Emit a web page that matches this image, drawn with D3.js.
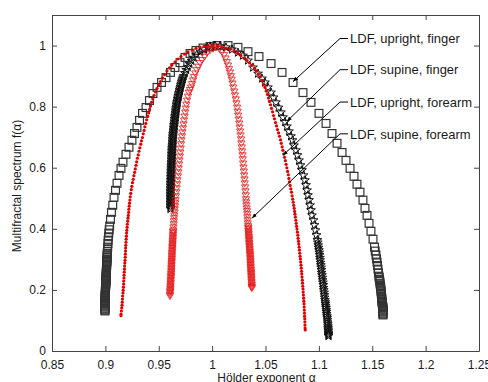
<!DOCTYPE html>
<html>
<head>
<meta charset="utf-8">
<script src="https://cdn.jsdelivr.net/npm/d3@7"></script>
<style>
  body { margin: 0; background: #fff; }
  svg { display: block; }
  text { font-family: "Liberation Sans", Arial, sans-serif; }
</style>
</head>
<body>
<svg id="chart" width="488" height="382"></svg>
<script>
// axis ticks
const alphaTicks = [0.85, 0.9, 0.95, 1, 1.05, 1.1, 1.15, 1.2, 1.25];
const alphaTickLabels = ["0.85", "0.9", "0.95", "1", "1.05", "1.1", "1.15", "1.2", "1.25"];
const fTicks = [0, 0.2, 0.4, 0.6, 0.8, 1];
const fTickLabels = ["0", "0.2", "0.4", "0.6", "0.8", "1"];

// [alpha, f(alpha)], left branch bottom->top, right branch top->bottom,
// then the extra points that fill the dense tails
const uprightFinger = [
  [0.8996,0.131],[0.8996,0.137],[0.8996,0.144],[0.8996,0.150],[0.8997,0.160],[0.8998,0.170],[0.8999,0.180],[0.9000,0.190],
  [0.9001,0.199],[0.9002,0.212],[0.9004,0.226],[0.9006,0.239],[0.9008,0.252],[0.9010,0.268],[0.9012,0.284],[0.9015,0.301],
  [0.9018,0.320],[0.9022,0.340],[0.9026,0.363],[0.9032,0.386],[0.9040,0.409],[0.9048,0.431],[0.9057,0.454],[0.9069,0.477],
  [0.9081,0.503],[0.9095,0.526],[0.9109,0.549],[0.9128,0.575],[0.9146,0.598],[0.9165,0.618],[0.9193,0.644],[0.9221,0.667],
  [0.9249,0.690],[0.9273,0.712],[0.9296,0.732],[0.9320,0.755],[0.9348,0.778],[0.9381,0.797],[0.9413,0.820],[0.9446,0.843],
  [0.9484,0.863],[0.9526,0.879],[0.9568,0.895],[0.9610,0.912],[0.9652,0.928],[0.9699,0.944],[0.9746,0.961],[0.9793,0.974],
  [0.9849,0.984],[0.9915,0.992],[0.9980,0.997],[1.0046,1.000],
  [1.0149,1.000],[1.0242,0.994],[1.0336,0.980],[1.0439,0.964],[1.0552,0.941],[1.0655,0.912],[1.0758,0.879],[1.0851,0.846],
  [1.0926,0.814],[1.1001,0.778],[1.1067,0.745],[1.1123,0.712],[1.1170,0.680],[1.1217,0.650],[1.1254,0.624],[1.1292,0.598],
  [1.1329,0.572],[1.1357,0.546],[1.1385,0.520],[1.1413,0.494],[1.1432,0.467],[1.1451,0.444],[1.1470,0.418],[1.1488,0.392],
  [1.1507,0.366],[1.1521,0.340],[1.1535,0.314],[1.1545,0.291],[1.1554,0.268],[1.1563,0.245],[1.1573,0.222],[1.1582,0.199],
  [1.1587,0.180],[1.1591,0.163],[1.1596,0.150],[1.1601,0.137],[1.1601,0.128],[1.1601,0.118],
  [0.8996,0.134],[0.8996,0.140],[0.8996,0.147],[0.8996,0.153],[0.8997,0.156],[0.8997,0.163],[0.8997,0.166],[0.8998,0.173],
  [0.8998,0.176],[0.8999,0.183],[0.8999,0.186],[0.9000,0.193],[0.9000,0.196],[0.9001,0.203],[0.9001,0.206],[0.9002,0.209],
  [0.9003,0.216],[0.9003,0.219],[0.9004,0.222],[0.9005,0.229],[0.9005,0.232],[0.9006,0.235],[0.9007,0.242],[0.9007,0.245],
  [0.9008,0.248],[0.9009,0.256],[0.9009,0.260],[0.9010,0.264],[0.9011,0.272],[0.9011,0.276],[0.9012,0.280],[0.9013,0.289],
  [0.9014,0.293],[0.9014,0.297],[0.9016,0.306],[0.9017,0.311],[0.9017,0.315],[0.9019,0.326],[0.9020,0.333],[0.9024,0.352],
  [0.9029,0.374],[0.9036,0.397],
  [1.1601,0.121],[1.1601,0.124],[1.1601,0.131],[1.1601,0.134],[1.1600,0.140],[1.1599,0.143],[1.1598,0.146],[1.1595,0.154],
  [1.1594,0.157],[1.1593,0.160],[1.1590,0.167],[1.1589,0.171],[1.1588,0.175],[1.1586,0.184],[1.1585,0.189],[1.1583,0.194],
  [1.1580,0.205],[1.1578,0.211],[1.1575,0.216],[1.1571,0.228],[1.1568,0.234],[1.1565,0.240],[1.1558,0.256],[1.1549,0.280],
  [1.1540,0.302],[1.1528,0.327]
];

const supineFinger = [
  [0.9610,0.465],[0.9610,0.470],[0.9610,0.475],[0.9610,0.480],[0.9610,0.485],[0.9610,0.490],[0.9610,0.495],[0.9610,0.500],
  [0.9610,0.505],[0.9610,0.510],[0.9610,0.515],[0.9610,0.520],[0.9610,0.525],[0.9611,0.530],[0.9611,0.535],[0.9612,0.540],
  [0.9612,0.545],[0.9612,0.550],[0.9613,0.555],[0.9613,0.560],[0.9614,0.565],[0.9614,0.570],[0.9615,0.575],[0.9615,0.580],
  [0.9616,0.585],[0.9616,0.590],[0.9617,0.595],[0.9617,0.600],[0.9617,0.605],[0.9618,0.610],[0.9618,0.615],[0.9619,0.620],
  [0.9620,0.625],[0.9620,0.630],[0.9621,0.635],[0.9622,0.640],[0.9622,0.645],[0.9623,0.650],[0.9624,0.655],[0.9624,0.660],
  [0.9625,0.665],[0.9626,0.670],[0.9627,0.675],[0.9628,0.680],[0.9629,0.685],[0.9630,0.690],[0.9631,0.695],[0.9632,0.700],
  [0.9633,0.705],[0.9634,0.710],[0.9636,0.715],[0.9637,0.720],[0.9639,0.725],[0.9640,0.730],[0.9642,0.735],[0.9643,0.740],
  [0.9645,0.745],[0.9647,0.750],[0.9648,0.755],[0.9650,0.760],[0.9652,0.765],[0.9653,0.770],[0.9655,0.775],[0.9657,0.780],
  [0.9659,0.785],[0.9661,0.790],[0.9663,0.795],[0.9665,0.800],[0.9667,0.805],[0.9669,0.810],[0.9672,0.815],[0.9675,0.820],
  [0.9677,0.825],[0.9680,0.830],[0.9683,0.835],[0.9686,0.840],[0.9690,0.845],[0.9693,0.850],[0.9696,0.855],[0.9700,0.860],
  [0.9703,0.865],[0.9707,0.870],[0.9710,0.875],[0.9714,0.880],[0.9718,0.885],[0.9722,0.890],[0.9727,0.895],[0.9732,0.900],
  [0.9744,0.91],[0.9757,0.92],[0.9772,0.93],[0.9788,0.94],[0.9806,0.95],[0.9828,0.96],[0.9855,0.97],[0.9890,0.98],
  [0.9924,0.987],[0.9955,0.993],[0.9980,0.997],[1.0027,1.000],
  [1.0074,0.998],[1.0130,0.994],[1.0186,0.987],[1.0242,0.977],[1.0289,0.967],[1.0336,0.951],[1.0383,0.928],[1.0430,0.908],
  [1.0467,0.892],[1.0495,0.879],[1.0523,0.863],[1.0552,0.846],[1.0575,0.830],[1.0598,0.814],[1.0622,0.797],[1.0645,0.781],
  [1.0664,0.765],[1.0683,0.750],[1.0701,0.735],[1.0720,0.719],[1.0739,0.703],[1.0753,0.690],[1.0767,0.673],[1.0786,0.657],
  [1.0800,0.641],[1.0814,0.624],[1.0828,0.608],[1.0842,0.592],[1.0856,0.575],[1.0870,0.559],[1.0879,0.543],[1.0889,0.526],
  [1.0898,0.510],[1.0908,0.494],[1.0917,0.477],[1.0926,0.461],[1.0936,0.444],[1.0950,0.428],[1.0959,0.412],[1.0968,0.395],
  [1.0978,0.379],[1.0987,0.363],[1.0994,0.346],[1.1001,0.330],[1.1007,0.314],[1.1012,0.297],[1.1018,0.281],[1.1024,0.265],
  [1.1029,0.248],[1.1035,0.232],[1.1041,0.216],[1.1046,0.199],[1.1052,0.183],[1.1057,0.167],[1.1062,0.154],[1.1067,0.141],
  [1.1071,0.128],[1.1076,0.114],[1.1080,0.101],[1.1084,0.088],[1.1086,0.075],[1.1088,0.065],[1.1090,0.056],[1.1090,0.049],
  [1.0990,0.355],[1.0997,0.338],[1.1004,0.322],[1.1010,0.305],[1.1015,0.289],[1.1021,0.273],[1.1026,0.256],[1.1032,0.240],
  [1.1038,0.224],[1.1043,0.207],[1.1049,0.191],[1.1054,0.175],[1.1060,0.160],[1.1064,0.147],[1.1069,0.134],[1.1073,0.121],
  [1.1078,0.108],[1.1082,0.094],[1.1085,0.081],[1.1087,0.070],[1.1089,0.060],[1.1090,0.052]
];

const uprightForearm = [
  [0.9146,0.116],[0.9147,0.121],[0.9150,0.131],[0.9153,0.141],[0.9156,0.150],[0.9158,0.160],[0.9160,0.170],[0.9162,0.180],
  [0.9165,0.190],[0.9167,0.199],[0.9169,0.209],[0.9171,0.219],[0.9172,0.229],[0.9174,0.239],[0.9175,0.248],[0.9177,0.258],
  [0.9179,0.268],[0.9180,0.278],[0.9182,0.288],[0.9184,0.297],[0.9186,0.307],[0.9187,0.317],[0.9189,0.327],[0.9189,0.337],
  [0.9191,0.346],[0.9193,0.356],[0.9195,0.366],[0.9197,0.376],[0.9199,0.386],[0.9201,0.395],[0.9204,0.405],[0.9206,0.415],
  [0.9209,0.425],[0.9212,0.435],[0.9215,0.444],[0.9218,0.454],[0.9220,0.464],[0.9223,0.474],[0.9226,0.484],[0.9230,0.494],
  [0.9233,0.505],[0.9238,0.516],[0.9243,0.528],[0.9248,0.539],[0.9254,0.551],[0.9261,0.562],[0.9267,0.574],[0.9274,0.585],
  [0.9280,0.596],[0.9287,0.608],[0.9293,0.619],[0.9300,0.631],[0.9308,0.642],[0.9315,0.654],[0.9323,0.665],[0.9331,0.677],
  [0.9338,0.688],[0.9347,0.699],[0.9355,0.711],[0.9363,0.722],[0.9370,0.734],[0.9379,0.745],[0.9387,0.757],[0.9396,0.768],
  [0.9405,0.779],[0.9414,0.791],[0.9423,0.802],[0.9432,0.814],[0.9444,0.825],[0.9456,0.837],[0.9470,0.848],[0.9484,0.860],
  [0.9498,0.871],[0.9516,0.882],[0.9535,0.894],[0.9554,0.905],[0.9577,0.917],[0.9601,0.927],[0.9624,0.936],[0.9652,0.946],
  [0.9680,0.956],[0.9708,0.964],[0.9741,0.972],[0.9774,0.979],[0.9812,0.986],[0.9849,0.991],[0.9886,0.995],[0.9924,0.997],
  [0.9961,0.999],[1.0000,1.000],
  [1.0055,0.998],[1.0093,0.996],[1.0130,0.992],[1.0167,0.988],[1.0205,0.982],[1.0238,0.975],[1.0270,0.967],[1.0299,0.959],
  [1.0327,0.951],[1.0350,0.943],[1.0373,0.935],[1.0397,0.926],[1.0416,0.917],[1.0434,0.907],[1.0451,0.897],[1.0467,0.886],
  [1.0481,0.874],[1.0495,0.863],[1.0507,0.851],[1.0519,0.840],[1.0528,0.828],[1.0537,0.817],[1.0547,0.806],[1.0556,0.794],
  [1.0566,0.783],[1.0575,0.771],[1.0584,0.760],[1.0594,0.748],[1.0603,0.737],[1.0612,0.725],[1.0622,0.714],[1.0631,0.703],
  [1.0641,0.691],[1.0648,0.680],[1.0656,0.668],[1.0663,0.657],[1.0671,0.645],[1.0678,0.634],[1.0686,0.623],[1.0693,0.611],
  [1.0700,0.600],[1.0707,0.588],[1.0714,0.577],[1.0719,0.565],[1.0725,0.554],[1.0731,0.542],[1.0737,0.531],[1.0744,0.520],
  [1.0749,0.508],[1.0755,0.497],[1.0760,0.487],[1.0764,0.477],[1.0769,0.467],[1.0773,0.457],[1.0776,0.448],[1.0780,0.438],
  [1.0784,0.428],[1.0788,0.418],[1.0791,0.408],[1.0795,0.399],[1.0799,0.389],[1.0803,0.379],[1.0805,0.369],[1.0809,0.359],
  [1.0812,0.350],[1.0815,0.340],[1.0818,0.330],[1.0821,0.320],[1.0824,0.310],[1.0827,0.301],[1.0830,0.291],[1.0833,0.281],
  [1.0835,0.271],[1.0838,0.261],[1.0840,0.252],[1.0842,0.242],[1.0845,0.232],[1.0847,0.222],[1.0849,0.212],[1.0851,0.203],
  [1.0853,0.193],[1.0855,0.183],[1.0857,0.173],[1.0859,0.163],[1.0861,0.154],[1.0862,0.144],[1.0864,0.134],[1.0865,0.124],
  [1.0866,0.114],[1.0868,0.105],[1.0869,0.095],[1.0870,0.085],[1.0871,0.075],[1.0872,0.069]
];

const supineForearm = [
  [0.9605,0.180],[0.9606,0.190],[0.9608,0.199],[0.9609,0.209],[0.9611,0.219],[0.9612,0.229],[0.9614,0.239],[0.9615,0.248],
  [0.9617,0.258],[0.9618,0.268],[0.9619,0.278],[0.9620,0.288],[0.9622,0.297],[0.9623,0.307],[0.9624,0.317],[0.9626,0.327],
  [0.9627,0.337],[0.9629,0.346],[0.9630,0.356],[0.9632,0.366],[0.9633,0.376],[0.9634,0.386],[0.9636,0.395],[0.9638,0.405],
  [0.9640,0.415],[0.9642,0.425],[0.9644,0.435],[0.9646,0.444],[0.9648,0.454],[0.9650,0.464],[0.9653,0.474],[0.9655,0.484],
  [0.9657,0.494],[0.9661,0.507],[0.9664,0.520],[0.9668,0.533],[0.9672,0.546],[0.9676,0.559],[0.9679,0.572],[0.9683,0.585],
  [0.9687,0.598],[0.9691,0.611],[0.9694,0.624],[0.9698,0.637],[0.9702,0.650],[0.9706,0.663],[0.9709,0.677],[0.9713,0.690],
  [0.9718,0.703],[0.9722,0.716],[0.9727,0.729],[0.9732,0.742],[0.9737,0.755],[0.9742,0.768],[0.9748,0.781],[0.9753,0.794],
  [0.9759,0.807],[0.9765,0.820],[0.9774,0.833],[0.9782,0.846],[0.9792,0.855],[0.9802,0.863],[0.9812,0.874],[0.9821,0.886],
  [0.9830,0.897],[0.9842,0.909],[0.9856,0.920],[0.9871,0.931],[0.9886,0.943],[0.9905,0.953],[0.9929,0.964],[0.9952,0.976],
  [0.9980,0.985],[1.0008,0.990],[1.0036,0.994],
  [1.0069,0.989],[1.0093,0.980],[1.0111,0.969],[1.0125,0.958],[1.0137,0.946],[1.0149,0.935],[1.0158,0.923],[1.0167,0.912],
  [1.0176,0.900],[1.0183,0.889],[1.0191,0.876],[1.0198,0.863],[1.0207,0.850],[1.0214,0.837],[1.0222,0.824],[1.0228,0.811],
  [1.0234,0.797],[1.0239,0.784],[1.0244,0.771],[1.0249,0.758],[1.0254,0.745],[1.0257,0.732],[1.0262,0.719],[1.0266,0.706],
  [1.0271,0.693],[1.0274,0.680],[1.0278,0.667],[1.0281,0.654],[1.0285,0.641],[1.0287,0.628],[1.0290,0.614],[1.0294,0.601],
  [1.0297,0.588],[1.0300,0.575],[1.0303,0.562],[1.0306,0.549],[1.0309,0.536],[1.0312,0.523],[1.0315,0.510],[1.0317,0.497],
  [1.0319,0.487],[1.0321,0.477],[1.0324,0.467],[1.0326,0.458],[1.0329,0.448],[1.0330,0.438],[1.0332,0.428],[1.0334,0.418],
  [1.0337,0.409],[1.0339,0.399],[1.0341,0.389],[1.0343,0.379],[1.0345,0.369],[1.0346,0.360],[1.0348,0.350],[1.0350,0.340],
  [1.0352,0.330],[1.0354,0.320],[1.0356,0.311],[1.0358,0.301],[1.0359,0.291],[1.0360,0.281],[1.0362,0.271],[1.0364,0.261],
  [1.0365,0.252],[1.0367,0.242],[1.0368,0.232],[1.0370,0.222],[1.0371,0.212],[1.0372,0.206],
  [0.9606,0.185],[0.9607,0.195],[0.9609,0.204],[0.9610,0.214],[0.9612,0.224],[0.9613,0.234],[0.9615,0.244],[0.9616,0.253],
  [0.9618,0.263],[0.9619,0.273],[0.9620,0.283],[0.9621,0.293],[0.9623,0.302],[0.9624,0.312],[0.9625,0.322],[0.9627,0.332],
  [0.9628,0.342],[0.9630,0.351],[0.9631,0.361],[0.9633,0.371],[0.9634,0.381],[0.9635,0.391],
  [1.0338,0.404],[1.0340,0.394],[1.0342,0.384],[1.0344,0.374],[1.0346,0.365],[1.0347,0.355],[1.0349,0.345],[1.0351,0.335],
  [1.0353,0.325],[1.0355,0.316],[1.0357,0.306],[1.0359,0.296],[1.0360,0.286],[1.0361,0.276],[1.0363,0.266],[1.0365,0.257],
  [1.0366,0.247],[1.0368,0.237],[1.0369,0.227],[1.0371,0.217],[1.0372,0.209]
];

// annotations: label, arrow target [alpha, f], f of the label line
const annotLabels = ["LDF, upright, finger", "LDF, supine, finger", "LDF, upright, forearm", "LDF, supine, forearm"];
const annotTargets = [[1.0758, 0.882], [1.0701, 0.752], [1.0664, 0.641], [1.0373, 0.435]];
const annotLevels = [1.023, 0.921, 0.815, 0.711];
const annotElbowAlpha = 1.1198, annotEndAlpha = 1.1273, annotTextAlpha = 1.1292;

const width = 488, height = 382;
const margin = {top: 15, right: 9, bottom: 31, left: 52};

let x = d3.scaleLinear().domain([0.85, 1.25]).range([margin.left, width - margin.right]);
let y = d3.scaleLinear().domain([0, 1.1]).range([height - margin.bottom, margin.top]);

let svg = d3.select("#chart");

// arrowhead
svg.append("defs").append("marker")
    .attr("id", "arrow")
    .attr("viewBox", "0 0 10 10")
    .attr("refX", 10).attr("refY", 5)
    .attr("markerWidth", 5).attr("markerHeight", 5)
    .attr("markerUnits", "userSpaceOnUse")
    .attr("orient", "auto")
  .append("path")
    .attr("d", "M0,1L10,5L0,9Z")
    .attr("fill", "#000");

function starPath(ro, ri) {
  let pts = [];
  for (let k = 0; k < 10; k++) {
    let r = k % 2 === 0 ? ro : ri;
    let a = -Math.PI / 2 + k * Math.PI / 5;
    pts.push([r * Math.cos(a), r * Math.sin(a)]);
  }
  return "M" + pts.map(p => p[0].toFixed(2) + "," + p[1].toFixed(2)).join("L") + "Z";
}

// series: squares, stars, dots, down triangles
svg.append("g").selectAll("rect")
  .data(uprightFinger)
  .enter().append("rect")
    .attr("x", d => x(d[0]) - 3.9)
    .attr("y", d => y(d[1]) - 3.9)
    .attr("width", 7.8)
    .attr("height", 7.8)
    .attr("fill", "none")
    .attr("stroke", "#333")
    .attr("stroke-width", 1.2);

let star = starPath(4.6, 1.9);
svg.append("g").selectAll("path")
  .data(supineFinger)
  .enter().append("path")
    .attr("d", star)
    .attr("transform", d => `translate(${x(d[0])},${y(d[1])})`)
    .attr("fill", "none")
    .attr("stroke", "#111")
    .attr("stroke-width", 1);

svg.append("g").selectAll("circle")
  .data(uprightForearm)
  .enter().append("circle")
    .attr("cx", d => x(d[0]))
    .attr("cy", d => y(d[1]))
    .attr("r", 1.6)
    .attr("fill", "#e00000");

svg.append("g").selectAll("path")
  .data(supineForearm)
  .enter().append("path")
    .attr("d", "M-3.6,-2.4L3.6,-2.4L0,3.6Z")
    .attr("transform", d => `translate(${x(d[0])},${y(d[1])})`)
    .attr("fill", "none")
    .attr("stroke", "#e41010")
    .attr("stroke-width", 0.8);

// axes, boxed with inward ticks
let axisColor = "#444";
let gx = svg.append("g")
    .attr("transform", `translate(0,${height - margin.bottom})`)
    .call(d3.axisBottom(x).tickValues(alphaTicks).tickFormat((d, i) => alphaTickLabels[i])
      .tickSizeInner(-5).tickSizeOuter(0).tickPadding(9));
let gy = svg.append("g")
    .attr("transform", `translate(${margin.left},0)`)
    .call(d3.axisLeft(y).tickValues(fTicks).tickFormat((d, i) => fTickLabels[i])
      .tickSizeInner(-5).tickSizeOuter(0).tickPadding(6));
let gt = svg.append("g")
    .attr("transform", `translate(0,${margin.top})`)
    .call(d3.axisTop(x).tickValues(alphaTicks).tickFormat("").tickSizeInner(-5).tickSizeOuter(0));
let gr = svg.append("g")
    .attr("transform", `translate(${width - margin.right},0)`)
    .call(d3.axisRight(y).tickValues(fTicks).tickFormat("").tickSizeInner(-5).tickSizeOuter(0));

[gx, gy, gt, gr].forEach(g => {
  g.selectAll(".domain").attr("stroke", axisColor);
  g.selectAll(".tick line").attr("stroke", axisColor);
  g.selectAll(".tick text")
    .attr("fill", "#1a1a1a")
    .style("font-size", "12px")
    .style("font-family", '"Liberation Sans", Arial, sans-serif');
});

// axis titles
svg.append("text")
    .attr("transform", `translate(21,${(y.range()[0] + y.range()[1]) / 2 + 3}) rotate(-90)`)
    .attr("text-anchor", "middle")
    .style("font-size", "12px")
    .attr("fill", "#1a1a1a")
    .text("Multifractal spectrum f(α)");

svg.append("text")
    .attr("x", (x.range()[0] + x.range()[1]) / 2 + 1)
    .attr("y", height)
    .attr("text-anchor", "middle")
    .style("font-size", "12px")
    .attr("fill", "#1a1a1a")
    .text("Hölder exponent  α");

// annotations
let ann = svg.append("g").selectAll("g")
  .data(annotLabels)
  .enter().append("g");

ann.append("path")
    .attr("d", (d, i) => `M${x(annotEndAlpha)},${y(annotLevels[i])}L${x(annotElbowAlpha)},${y(annotLevels[i])}` +
      `L${x(annotTargets[i][0])},${y(annotTargets[i][1])}`)
    .attr("fill", "none")
    .attr("stroke", "#000")
    .attr("stroke-width", 1)
    .attr("marker-end", "url(#arrow)");

ann.append("text")
    .attr("x", x(annotTextAlpha))
    .attr("y", (d, i) => y(annotLevels[i]))
    .attr("dy", "0.36em")
    .style("font-size", "13px")
    .attr("fill", "#1a1a1a")
    .text(d => d);
</script>
</body>
</html>
